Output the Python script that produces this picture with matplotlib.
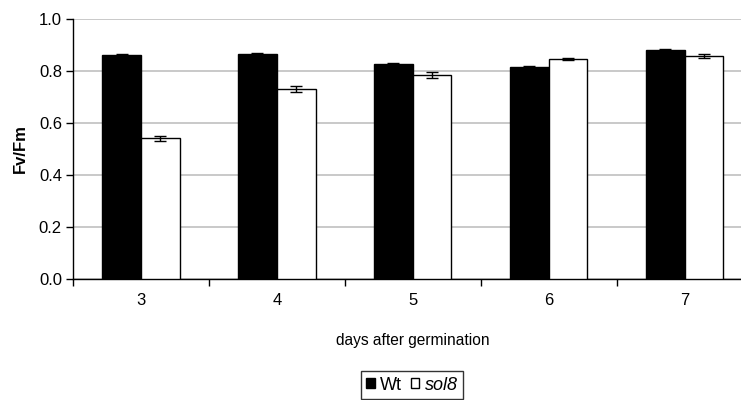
import matplotlib
matplotlib.use("Agg")
import matplotlib.pyplot as plt
import numpy as np
from matplotlib.patches import Patch

plt.rcParams['font.family'] = ['Liberation Sans', 'DejaVu Sans']

days = ["3", "4", "5", "6", "7"]
wt_values = [0.862, 0.865, 0.827, 0.817, 0.882]
wt_errors = [0.004, 0.005, 0.003, 0.004, 0.004]
sol8_values = [0.541, 0.730, 0.785, 0.847, 0.859]
sol8_errors = [0.009, 0.012, 0.012, 0.003, 0.008]

fig = plt.figure(figsize=(7.41, 4.0), dpi=100)
ax = fig.add_axes([0.0985, 0.3025, 0.917, 0.65])

x = np.arange(len(days))
w = 0.285
ax.bar(x - w / 2, wt_values, w, color="black", edgecolor="black", linewidth=1,
       yerr=wt_errors, capsize=4, error_kw=dict(ecolor="black", elinewidth=1, capthick=1), zorder=3)
ax.bar(x + w / 2, sol8_values, w, color="white", edgecolor="black", linewidth=1,
       yerr=sol8_errors, capsize=4, error_kw=dict(ecolor="black", elinewidth=1, capthick=1), zorder=3)

ax.set_xlim(-0.5, 4.5)
ax.set_ylim(0, 1.0)
ax.set_yticks(np.arange(0, 1.01, 0.2))
ax.set_yticklabels([f"{v:.1f}" for v in np.arange(0, 1.01, 0.2)], fontsize=12)
ax.yaxis.grid(True, color="#c0c0c0", linewidth=1.2, zorder=0)
ax.set_axisbelow(True)

ax.set_xticks(x)
ax.set_xticklabels(days, fontsize=12)
ax.tick_params(axis="x", length=0, pad=10)
ax.set_xticks(np.arange(-0.5, 4.6, 1.0), minor=True)
ax.tick_params(axis="x", which="minor", length=5, width=1, direction="out")
ax.tick_params(axis="y", length=5, width=1, direction="out", pad=3)

for s in ["top", "right"]:
    ax.spines[s].set_visible(False)
ax.spines["left"].set_linewidth(1)
ax.spines["bottom"].set_linewidth(1)

ax.set_ylabel("Fv/Fm", fontsize=12, fontweight="bold", labelpad=8)
ax.set_xlabel("days after germination", fontsize=11.2, labelpad=18)

handles = [Patch(facecolor="black", edgecolor="black"),
           Patch(facecolor="white", edgecolor="black")]
leg = fig.legend(handles, ["Wt", "sol8"], loc="lower center", bbox_to_anchor=(0.556, -0.002),
                 ncol=2, fontsize=13, frameon=True, fancybox=False, edgecolor="black",
                 handlelength=0.45, handleheight=0.45, handletextpad=0.3, columnspacing=0.5,
                 borderpad=0.3, borderaxespad=0.1)
leg.get_frame().set_linewidth(1)
leg.get_texts()[1].set_fontstyle("italic")

fig.savefig("out.png", dpi=100)
